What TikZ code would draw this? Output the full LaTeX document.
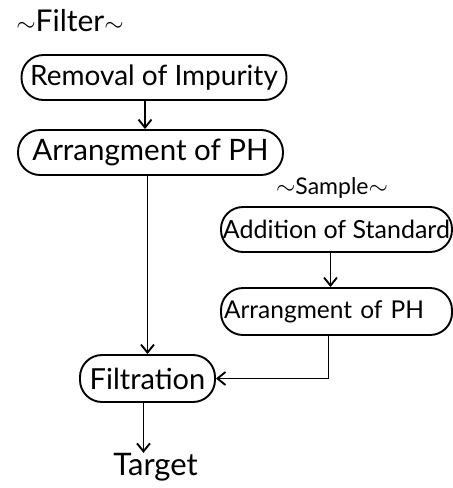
\documentclass[tikz,border=0pt]{standalone}
\usepackage{fontspec}
\setmainfont{Lato}
\usetikzlibrary{arrows.meta}
\newcommand{\fsz}[1]{\fontsize{#1}{#1}\selectfont}
\begin{document}
\begin{tikzpicture}[x=10pt,y=10pt]
  \tikzstyle{every node}+=[inner sep=0pt, font=\fsz{25}]
  \tikzstyle{step box}=[draw, line width=1.9pt, rounded corners=22pt, minimum height=45pt]
  \tikzstyle{flow}=[line width=1.9pt, -{Straight Barb[length=8pt,width=13pt,line width=1.9pt]}]
  \useasboundingbox (0,0) rectangle (45.3,-48.8);
  \node [font=\fsz{30}] (filter) at (7.0,-2.1) {$\sim$Filter$\sim$};
  \node [step box, minimum width=265pt, font=\fsz{28}] (removal) at (15.4,-7.75) {Removal of Impurity};
  \node [step box, minimum width=265pt, font=\fsz{29.5}] (phA) at (15.05,-15.25) {Arrangment of PH};
  \node [font=\fsz{23}] (sample) at (33.2,-18.8) {$\sim$Sample$\sim$};
  \node [step box, minimum width=231pt] (addition) at (33.65,-22.95) {Addition of Standard};
  \node [step box, minimum height=47pt, inner xsep=3pt, text width=225pt, align=left, font=\fsz{24.5}] (phB) at (33.65,-31.15) {Arrangment of PH};
  \node [step box, minimum width=135pt, minimum height=47pt, font=\fsz{29}] (filtration) at (14.75,-37.85) {Filtration};
  \node [font=\fsz{31}] (target) at (15.55,-46.7) {Target};
  \draw [flow] ([xshift=-9pt]removal.south) -- ([xshift=-9pt]removal.south |- phA.north);
  \draw [flow] (filtration.north |- phA.south) -- (filtration.north);
  \draw [flow] ([xshift=-6pt]addition.south) -- ([xshift=-6pt]addition.south |- phB.north);
  \draw [flow] ([xshift=-8pt]phB.south) |- (filtration.east);
  \draw [flow] ([xshift=-4pt]filtration.south) -- ([xshift=-4pt]filtration.south |- target.north);
\end{tikzpicture}
\end{document}
